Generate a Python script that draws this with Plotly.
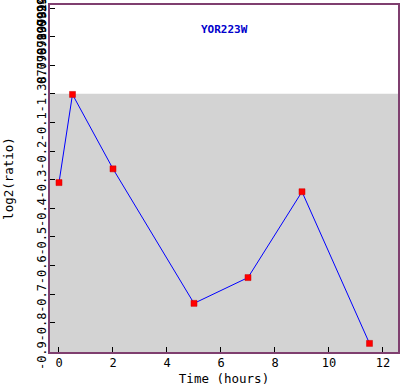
import plotly.graph_objects as go

# Data
time_hours = [0, 0.5, 2, 5, 7, 9, 11.5]
log2_ratio = [-0.310, -0.002, -0.262, -0.732, -0.642, -0.342, -0.872]
gene = "YOR223W"

x_tickvals = [0, 2, 4, 6, 8, 10, 12]
x_ticktext = ["0", "2", "4", "6", "8", "10", "12"]
y_tickvals = [-0.9, -0.8, -0.7, -0.6, -0.5, -0.4, -0.3, -0.2, -0.1, 0.0, 0.1, 0.2, 0.3]
y_ticktext = ["-0.9", "-0.8", "-0.7", "-0.6", "-0.5", "-0.4", "-0.3", "-0.2", "-0.1",
              "-1.3877787807814457E-16", "0.09999999999999987", "0.19999999999999987",
              "0.2999999999999999"]

# pad long labels at their start so every label begins just below its tick
padded = [("\u00a0" * (len(t) - 4)) + t for t in y_ticktext]

FONT = "DejaVu Sans Mono"
FRAME = "#7f3f6f"

fig = go.Figure()
fig.add_trace(go.Scatter(
    x=time_hours, y=log2_ratio, mode="lines+markers",
    line=dict(color="#0000ff", width=1),
    marker=dict(symbol="square", size=6, color="#ff0000",
                line=dict(color="#cc0000", width=0.5)),
    showlegend=False, cliponaxis=False,
))

fig.add_shape(type="rect", xref="paper", yref="y", x0=0, x1=1, y0=-0.95, y1=0,
              fillcolor="#d3d3d3", line=dict(width=0), layer="below")

fig.add_annotation(text="<b>" + gene + "</b>", xref="paper", yref="paper",
                   x=0.5, y=0.928, yanchor="middle", showarrow=False,
                   font=dict(family=FONT, size=11, color="#0000cc"))

fig.update_layout(
    width=405, height=386,
    margin=dict(l=50, r=7, t=5, b=34, autoexpand=False),
    paper_bgcolor="white", plot_bgcolor="white",
    font=dict(family=FONT, size=12, color="black"),
    xaxis=dict(
        range=[-0.333, 12.556], tickvals=x_tickvals, ticktext=x_ticktext,
        ticks="inside", ticklen=5, tickcolor="black", tickwidth=1,
        ticklabelstandoff=-1,
        showgrid=False, zeroline=False,
        showline=True, linecolor=FRAME, linewidth=2, mirror=True,
        tickfont=dict(family=FONT, size=12),
        title=dict(text="Time (hours)", font=dict(family=FONT, size=12.5), standoff=6),
        automargin=False,
    ),
    yaxis=dict(
        range=[-0.902, 0.3105], tickvals=y_tickvals, ticktext=padded,
        tickangle=-90, ticklabelshift=6, ticklabelstandoff=-3,
        ticklabeloverflow="allow",
        ticks="inside", ticklen=5, tickcolor="black", tickwidth=1,
        showgrid=False, zeroline=False,
        showline=True, linecolor=FRAME, linewidth=2, mirror=True,
        tickfont=dict(family=FONT, size=12),
        title=dict(text="log2(ratio)", font=dict(family=FONT, size=12.5), standoff=19),
        automargin=False,
    ),
)

fig.write_html("out.html", config={"displayModeBar": False},
               post_script="document.body.style.margin='0px';")
